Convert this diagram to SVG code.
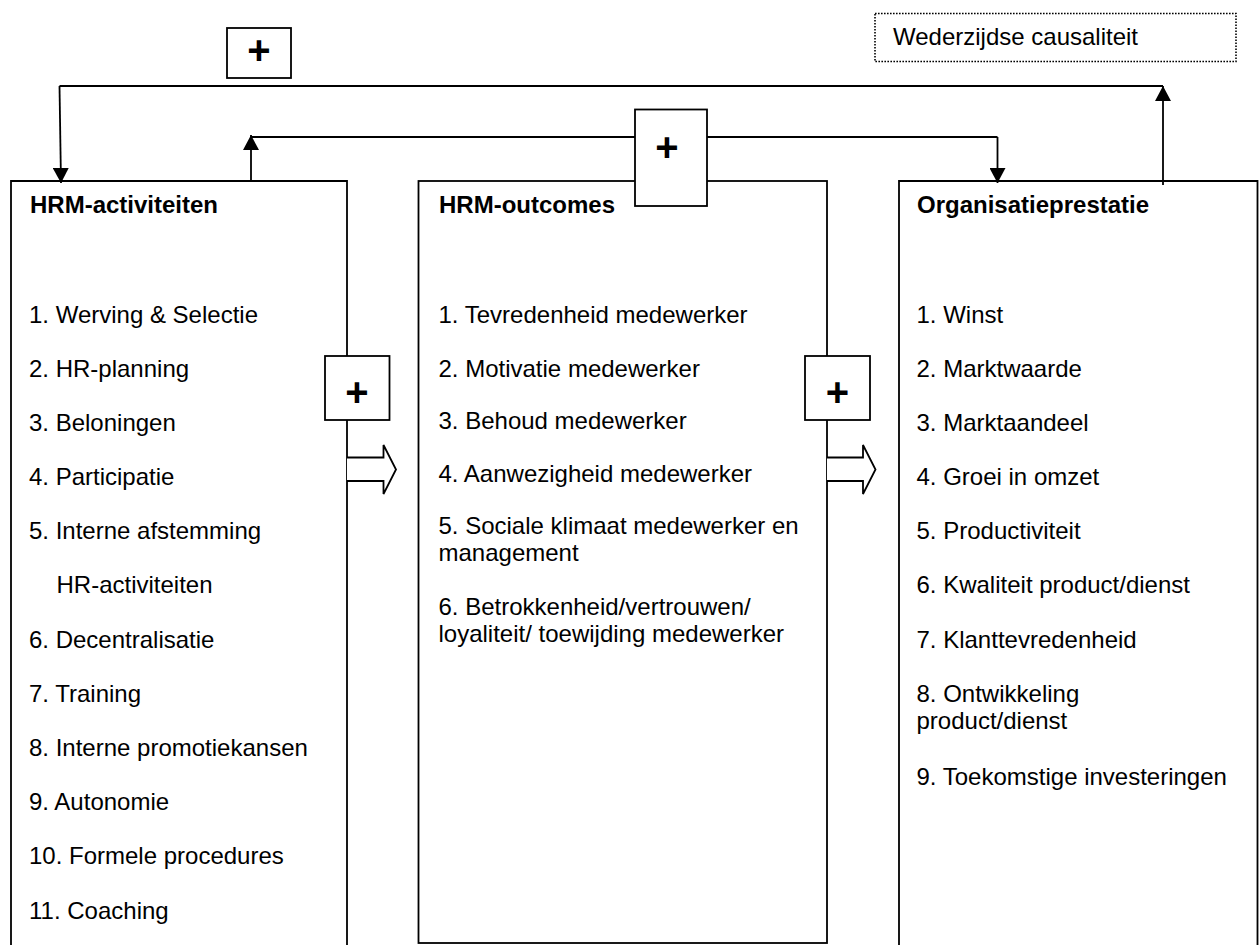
<svg xmlns="http://www.w3.org/2000/svg" width="1259" height="945" viewBox="0 0 1259 945">
  <style>
    .frame { fill: #ffffff; stroke: #000000; stroke-width: 1.8; }
    .wire { fill: none; stroke: #000000; stroke-width: 1.8; }
    .item { font-family: "Liberation Sans", Arial, sans-serif; font-size: 24px; fill: #000000; }
    .head { font-family: "Liberation Sans", Arial, sans-serif; font-size: 24px; font-weight: bold; fill: #000000; }
    .plus { font-family: "Liberation Sans", Arial, sans-serif; font-size: 40px; font-weight: bold; fill: #000000; text-anchor: middle; }
    .note { fill: #ffffff; stroke: #000000; stroke-width: 1.6; stroke-dasharray: 1.6 1.4; }
  </style>
  <defs>
    <marker id="tip" viewBox="0 0 15 16" refX="15" refY="8" markerWidth="15" markerHeight="16" orient="auto" markerUnits="userSpaceOnUse">
      <path d="M0,0 L15,8 L0,16 z" fill="#000000"/>
    </marker>
  </defs>

  <rect width="1259" height="945" fill="#ffffff"/>

  <!-- column: HRM activities -->
  <g id="hrm-activiteiten">
    <path class="frame" d="M11,946 V181 H347 V946"/>
    <text class="head" x="30" y="213">HRM-activiteiten</text>
    <text class="item" x="29" y="322.7">1. Werving &amp; Selectie</text>
    <text class="item" x="29" y="376.8">2. HR-planning</text>
    <text class="item" x="29" y="431">3. Beloningen</text>
    <text class="item" x="29" y="485.1">4. Participatie</text>
    <text class="item" x="29" y="539.2">5. Interne afstemming</text>
    <text class="item" x="56.5" y="593.4">HR-activiteiten</text>
    <text class="item" x="29" y="647.6">6. Decentralisatie</text>
    <text class="item" x="29" y="701.8">7. Training</text>
    <text class="item" x="29" y="756">8. Interne promotiekansen</text>
    <text class="item" x="29" y="810.2">9. Autonomie</text>
    <text class="item" x="29" y="864.4">10. Formele procedures</text>
    <text class="item" x="29" y="918.6">11. Coaching</text>
  </g>

  <!-- column: HRM outcomes -->
  <g id="hrm-outcomes">
    <rect class="frame" x="418.5" y="181" width="408.5" height="762"/>
    <text class="head" x="439" y="213">HRM-outcomes</text>
    <text class="item" x="438.5" y="322.7">1. Tevredenheid medewerker</text>
    <text class="item" x="438.5" y="376.8">2. Motivatie medewerker</text>
    <text class="item" x="438.5" y="429.3">3. Behoud medewerker</text>
    <text class="item" x="438.5" y="481.8">4. Aanwezigheid medewerker</text>
    <text class="item" x="438.5" y="534.3">5. Sociale klimaat medewerker en</text>
    <text class="item" x="438.5" y="560.8">management</text>
    <text class="item" x="438.5" y="615">6. Betrokkenheid/vertrouwen/</text>
    <text class="item" x="438.5" y="641.5">loyaliteit/ toewijding medewerker</text>
  </g>

  <!-- column: organisational performance -->
  <g id="organisatieprestatie">
    <path class="frame" d="M899,946 V181 H1257.5 V946"/>
    <text class="head" x="917" y="213">Organisatieprestatie</text>
    <text class="item" x="916.5" y="322.7">1. Winst</text>
    <text class="item" x="916.5" y="376.8">2. Marktwaarde</text>
    <text class="item" x="916.5" y="431">3. Marktaandeel</text>
    <text class="item" x="916.5" y="485.1">4. Groei in omzet</text>
    <text class="item" x="916.5" y="539.2">5. Productiviteit</text>
    <text class="item" x="916.5" y="593.4">6. Kwaliteit product/dienst</text>
    <text class="item" x="916.5" y="647.6">7. Klanttevredenheid</text>
    <text class="item" x="916.5" y="702.4">8. Ontwikkeling</text>
    <text class="item" x="916.5" y="729.2">product/dienst</text>
    <text class="item" x="916.5" y="785">9. Toekomstige investeringen</text>
  </g>

  <!-- feedback loops between the columns -->
  <g id="connectors">
    <path class="wire" d="M1163,185 V86" marker-end="url(#tip)"/>
    <path class="wire" d="M1163,86 H59.5"/>
    <path class="wire" d="M59.5,86 L61,183" marker-end="url(#tip)"/>
    <path class="wire" d="M251,181 V135" marker-end="url(#tip)"/>
    <path class="wire" d="M251,137 H997.5"/>
    <path class="wire" d="M997.5,137 V183" marker-end="url(#tip)"/>
    <!-- hollow block arrows between columns -->
    <path class="frame" d="M347,457.5 H383.5 V445 L396,469.5 L383.5,494 V481 H347"/>
    <path class="frame" d="M827,457.5 H863 V445 L875.5,469.5 L863,494 V481 H827"/>
  </g>

  <!-- plus labels -->
  <g id="plus-top">
    <rect class="frame" x="227" y="28" width="64" height="50"/>
    <text class="plus" x="259" y="64">+</text>
  </g>
  <g id="plus-middle">
    <rect class="frame" x="635" y="109.5" width="72" height="96.5"/>
    <text class="plus" x="667" y="161">+</text>
  </g>
  <g id="plus-left">
    <rect class="frame" x="325" y="356" width="64.5" height="64"/>
    <text class="plus" x="357" y="406">+</text>
  </g>
  <g id="plus-right">
    <rect class="frame" x="805" y="356" width="65" height="64"/>
    <text class="plus" x="837.5" y="406">+</text>
  </g>

  <!-- legend -->
  <g id="wederzijdse-causaliteit">
    <rect class="note" x="875" y="13.5" width="361" height="48"/>
    <text class="item" x="893" y="45">Wederzijdse causaliteit</text>
  </g>
</svg>
